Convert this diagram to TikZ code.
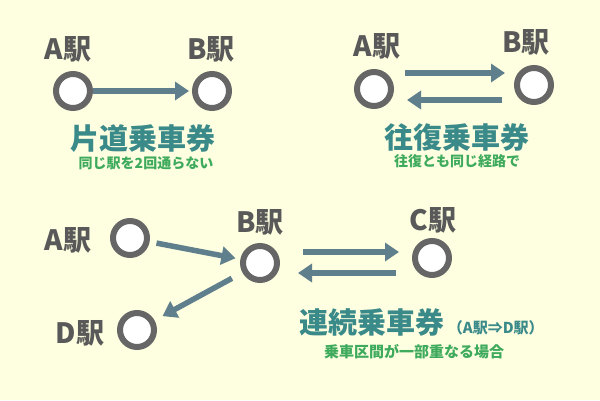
\documentclass[tikz,border=0pt]{standalone}
\usepackage{fontspec}
\setmainfont{Noto Sans CJK JP}
\usetikzlibrary{arrows.meta}
\definecolor{bgcol}{HTML}{FEFEE0}
\definecolor{ringgray}{HTML}{666666}
\definecolor{lblgray}{HTML}{595959}
\definecolor{arrblue}{HTML}{5F7F8C}
\definecolor{ttlteal}{HTML}{3A8A8A}
\definecolor{subgreen}{HTML}{3DAA5C}
\begin{document}
\begin{tikzpicture}[x=1pt,y=-1pt,
    stn/.style={circle,draw=ringgray,fill=white,line width=6pt,minimum size=34pt,inner sep=0pt},
    lbl/.style={font=\bfseries\fontsize{28}{28}\selectfont,text=lblgray,inner sep=0pt},
    ttl/.style={font=\bfseries\fontsize{29}{29}\selectfont,text=ttlteal,inner sep=0pt},
    sub/.style={font=\bfseries\fontsize{14}{14}\selectfont,text=subgreen,inner sep=0pt},
    arr/.style={-{Triangle[length=14pt,width=18pt]},line width=5.5pt,draw=arrblue}]
    \fill[bgcol] (0,0) rectangle (600,400);
    \useasboundingbox (0,0) rectangle (600,400);
    % one-way ticket
    \node[stn] (A1) at (73,91) {};
    \node[stn] (B1) at (212,91) {};
    \node[lbl] (A1l) at (68,49) {A駅};
    \node[lbl] (B1l) at (211,49) {B駅};
    \node[ttl] (T1) at (143,139) {片道乗車券};
    \node[sub] (S1) at (146,163) {同じ駅を2回通らない};
    \draw[arr,shorten >=3pt] (A1) -- (B1);
    % round-trip ticket
    \node[stn] (A2) at (374,89) {};
    \node[stn] (B2) at (534,85) {};
    \node[lbl] (A2l) at (377,46) {A駅};
    \node[lbl] (B2l) at (526,42) {B駅};
    \node[ttl] (T2) at (457,137) {往復乗車券};
    \node[sub] (S2) at (457,161) {往復とも同じ経路で};
    \coordinate (go2) at ([shift={(11,-16)}]A2.east);
    \coordinate (back2) at ([shift={(-12,15)}]B2.west);
    \draw[arr,shorten >=9pt] (go2) -- (go2 -| B2.west);
    \draw[arr,shorten >=13pt] (back2) -- (back2 -| A2.east);
    % through ticket
    \node[stn] (A3) at (130,238) {};
    \node[stn] (B3) at (260,263) {};
    \node[stn] (C3) at (432,258) {};
    \node[stn] (D3) at (137,330) {};
    \node[lbl] (A3l) at (68,240) {A駅};
    \node[lbl] (B3l) at (260,222) {B駅};
    \node[lbl] (C3l) at (433,220) {C駅};
    \node[lbl] (D3l) at (80,333) {D駅};
    \draw[arr,shorten <=7pt,shorten >=5pt] (A3) -- (B3);
    \draw[arr,shorten <=12pt,shorten >=9pt] (B3) -- (D3);
    \coordinate (go3) at ([shift={(23,-11)}]B3.east);
    \coordinate (back3) at ([shift={(-16,15)}]C3.west);
    \draw[arr,shorten >=13pt] (go3) -- (go3 -| C3.west);
    \draw[arr,shorten >=18pt] (back3) -- (back3 -| B3.east);
    \node[ttl] (T3) at (372,322) {連続乗車券};
    \node[font=\bfseries\fontsize{15}{15}\selectfont,text=ttlteal,inner sep=0pt,anchor=base west] (N3) at ([xshift=3pt]T3.base east) {（A駅⇒D駅）};
    \node[sub,font=\bfseries\fontsize{15}{15}\selectfont] (S3) at (414,352) {乗車区間が一部重なる場合};
\end{tikzpicture}
\end{document}
